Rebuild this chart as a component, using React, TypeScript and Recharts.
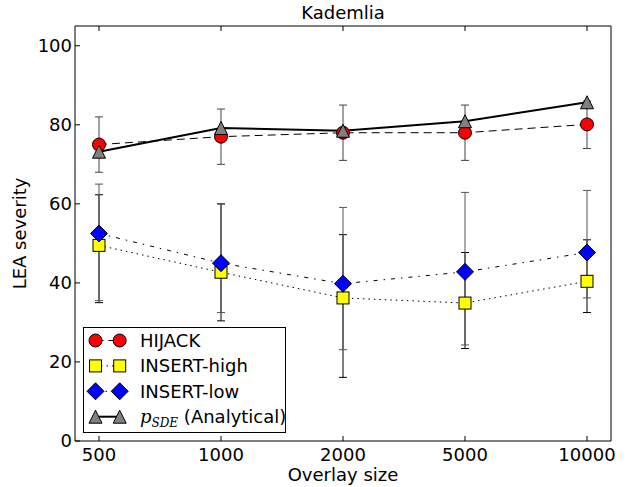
import React from 'react';
import { LineChart, Line, XAxis, YAxis, ErrorBar, Legend } from 'recharts';

const overlaySizes = ['500', '1000', '2000', '5000', '10000'];

const hijack = [75.0, 77.0, 78.0, 78.0, 80.1];
const hijackLow = [68, 70, 71, 71, 74];
const hijackHigh = [82, 84, 85, 85, 86];

const insertHigh = [49.5, 42.7, 36.2, 34.9, 40.4];
const insertHighLow = [35.0, 30.4, 16.1, 23.4, 32.5];
const insertHighHigh = [62.3, 60.0, 52.2, 47.7, 50.9];

const insertLow = [52.5, 45.0, 39.8, 42.8, 47.7];
const insertLowLow = [35.5, 32.5, 23.1, 24.3, 36.2];
const insertLowHigh = [65.0, 60.0, 59.1, 62.9, 63.4];

const pSde = [73.2, 79.2, 78.5, 80.9, 85.7];

const yTicks = [0, 20, 40, 60, 80, 100];

const data = overlaySizes.map((size, i) => ({
  size,
  hijack: hijack[i],
  hijackErr: [hijack[i] - hijackLow[i], hijackHigh[i] - hijack[i]],
  insertHigh: insertHigh[i],
  insertHighErr: [insertHigh[i] - insertHighLow[i], insertHighHigh[i] - insertHigh[i]],
  insertLow: insertLow[i],
  insertLowErr: [insertLow[i] - insertLowLow[i], insertLowHigh[i] - insertLow[i]],
  pSde: pSde[i],
}));

const FONT = '"DejaVu Sans", sans-serif';
const FS = 18;

type Kind = 'circle' | 'square' | 'diamond' | 'triangle';

const Marker = ({ kind, cx, cy }: { kind: Kind; cx: number; cy: number }) => {
  if (cx == null || cy == null) return null;
  switch (kind) {
    case 'circle':
      return <circle cx={cx} cy={cy} r={6.5} fill="#ff0000" stroke="#000" strokeWidth={1} />;
    case 'square':
      return <rect x={cx - 6} y={cy - 6} width={12} height={12} fill="#ffff00" stroke="#000" strokeWidth={1} />;
    case 'diamond':
      return (
        <polygon
          points={`${cx},${cy - 8.5} ${cx + 8.5},${cy} ${cx},${cy + 8.5} ${cx - 8.5},${cy}`}
          fill="#0000ff"
          stroke="#000"
          strokeWidth={1}
        />
      );
    default:
      return (
        <polygon
          points={`${cx},${cy - 6.5} ${cx + 6.5},${cy + 6.5} ${cx - 6.5},${cy + 6.5}`}
          fill="#808080"
          stroke="#000"
          strokeWidth={1}
        />
      );
  }
};

const dotOf = (kind: Kind) => (p: any) => <Marker key={`${kind}-${p.index}`} kind={kind} cx={p.cx} cy={p.cy} />;

const legendRows: { kind: Kind; dash?: string; w: number }[] = [
  { kind: 'circle', dash: '8 5', w: 1 },
  { kind: 'square', dash: '1.5 4', w: 1 },
  { kind: 'diamond', dash: '4 6 1.5 6', w: 1 },
  { kind: 'triangle', w: 2 },
];
const legendLabels = ['HIJACK', 'INSERT-high', 'INSERT-low'];

const LegendBox = () => (
  <svg width={203} height={106} style={{ display: 'block' }}>
    <rect x={0.5} y={0.5} width={202} height={105} fill="#fff" stroke="#000" strokeWidth={1} />
    {legendRows.map((r, i) => {
      const y = 13.5 + i * 25.4;
      return (
        <g key={i}>
          <line x1={12.5} x2={36.7} y1={y} y2={y} stroke="#000" strokeWidth={r.w} strokeDasharray={r.dash} />
          <Marker kind={r.kind} cx={12.5} cy={y} />
          <Marker kind={r.kind} cx={36.7} cy={y} />
          {i < 3 ? (
            <text x={57} y={y} dy="0.36em" fontSize={FS} fontFamily={FONT} fill="#000">
              {legendLabels[i]}
            </text>
          ) : (
            <text x={57} y={y} dy="0.36em" fontSize={FS} fontFamily={FONT} fill="#000">
              <tspan fontFamily='"DejaVu Serif", serif' fontStyle="italic">p</tspan>
              <tspan fontFamily='"DejaVu Serif", serif' fontStyle="italic" fontSize={12} dy={4}>SDE</tspan>
              <tspan dy={-4}> (Analytical)</tspan>
            </text>
          )}
        </g>
      );
    })}
  </svg>
);

export default function App() {
  const tickStyle = { fontSize: FS, fontFamily: FONT, fill: '#000' };
  const labelStyle = { fontSize: FS, fontFamily: FONT, fill: '#000' };
  return (
    <div style={{ position: 'absolute', left: 0, top: 0, background: '#fff' }}>
      <LineChart width={637} height={487} data={data} margin={{ top: 25, right: 25, bottom: 0, left: 0 }}>
        <XAxis
          dataKey="size"
          height={46}
          padding={{ left: 24, right: 24 }}
          axisLine={{ stroke: '#000' }}
          tickLine={{ stroke: '#000' }}
          tickSize={-5}
          tickMargin={12}
          tick={tickStyle}
          interval={0}
          label={{ value: 'Overlay size', position: 'insideBottom', offset: 6, style: labelStyle }}
        />
        <XAxis
          xAxisId="top"
          orientation="top"
          dataKey="size"
          height={1}
          padding={{ left: 24, right: 24 }}
          axisLine={{ stroke: '#000' }}
          tickLine={{ stroke: '#000' }}
          tickSize={-5}
          tickFormatter={() => ''}
          interval={0}
          label={{ value: 'Kademlia', position: 'top', offset: 6, style: labelStyle }}
        />
        <YAxis
          width={75}
          domain={[0, 105]}
          ticks={yTicks}
          type="number"
          axisLine={{ stroke: '#000' }}
          tickLine={{ stroke: '#000' }}
          tickSize={-5}
          tickMargin={8}
          tick={tickStyle}
          label={{
            value: 'LEA severity',
            angle: -90,
            position: 'insideLeft',
            offset: 20,
            style: { ...labelStyle, textAnchor: 'middle' },
          }}
        />
        <YAxis
          yAxisId="right"
          orientation="right"
          width={1}
          domain={[0, 105]}
          ticks={yTicks}
          type="number"
          axisLine={{ stroke: '#000' }}
          tickLine={{ stroke: '#000' }}
          tickSize={-5}
          tickFormatter={() => ''}
        />
        <Legend
          layout="vertical"
          align="center"
          verticalAlign="middle"
          content={() => <LegendBox />}
          wrapperStyle={{ position: 'absolute', left: 83, top: 327, width: 203, height: 106 }}
        />
        <Line
          dataKey="hijack"
          stroke="#000"
          strokeWidth={1}
          strokeDasharray="8 5"
          dot={dotOf('circle')}
          activeDot={false}
          isAnimationActive={false}
        >
          <ErrorBar dataKey="hijackErr" direction="y" width={4} stroke="#444" strokeWidth={1} />
        </Line>
        <Line
          dataKey="insertHigh"
          stroke="#000"
          strokeWidth={1}
          strokeDasharray="1.5 4"
          dot={dotOf('square')}
          activeDot={false}
          isAnimationActive={false}
        >
          <ErrorBar dataKey="insertHighErr" direction="y" width={4} stroke="#000" strokeWidth={1} />
        </Line>
        <Line
          dataKey="insertLow"
          stroke="#000"
          strokeWidth={1}
          strokeDasharray="4 6 1.5 6"
          dot={dotOf('diamond')}
          activeDot={false}
          isAnimationActive={false}
        >
          <ErrorBar dataKey="insertLowErr" direction="y" width={4} stroke="#555" strokeWidth={1} />
        </Line>
        <Line
          dataKey="pSde"
          stroke="#000"
          strokeWidth={2}
          dot={dotOf('triangle')}
          activeDot={false}
          isAnimationActive={false}
        />
      </LineChart>
    </div>
  );
}
